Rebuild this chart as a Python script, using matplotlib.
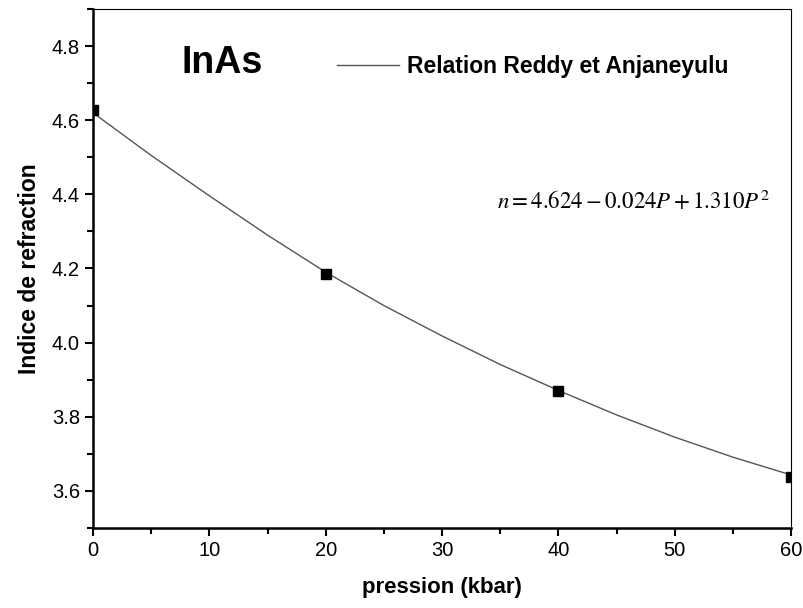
import matplotlib
matplotlib.use('Agg')
import matplotlib.pyplot as plt
from matplotlib.ticker import MultipleLocator

plt.rcParams['font.family'] = ['Liberation Sans', 'DejaVu Sans']
plt.rcParams['mathtext.fontset'] = 'stix'

# measured points
pression = [0, 20, 40, 60]
indice = [4.627, 4.185, 3.870, 3.638]

# Reddy & Anjaneyulu curve, every 5 kbar
p_curve = [0, 5, 10, 15, 20, 25, 30, 35, 40, 45, 50, 55, 60]
n_curve = [4.620, 4.505, 4.396, 4.290, 4.190, 4.100, 4.018, 3.941, 3.871,
           3.805, 3.745, 3.691, 3.643]

fig = plt.figure(figsize=(8.04, 6.08), dpi=100)
ax = fig.add_axes([0.1157, 0.1316, 0.8683, 0.8536])

ax.plot(p_curve, n_curve, color='#555555', lw=1.0,
        label='Relation Reddy et Anjaneyulu')
ax.plot(pression, indice, 's', color='black', ms=7.5, lw=0)

ax.set_xlim(0, 60)
ax.set_ylim(3.5, 4.9)
ax.xaxis.set_major_locator(MultipleLocator(10))
ax.xaxis.set_minor_locator(MultipleLocator(5))
ax.yaxis.set_minor_locator(MultipleLocator(0.1))
ax.set_yticks([3.6, 3.8, 4.0, 4.2, 4.4, 4.6, 4.8])
ax.yaxis.set_major_formatter(plt.FormatStrFormatter('%.1f'))

ax.tick_params(which='major', direction='out', length=6, width=1.5,
               labelsize=14.5, top=False, right=False)
ax.tick_params(which='minor', direction='out', length=4, width=1.5,
               top=False, right=False)
ax.spines['left'].set_linewidth(1.8)
ax.spines['bottom'].set_linewidth(1.8)
ax.spines['top'].set_linewidth(0.8)
ax.spines['right'].set_linewidth(0.8)

ax.set_xlabel('pression (kbar)', fontsize=16, fontweight='bold', labelpad=12)
ax.set_ylabel('Indice de refraction', fontsize=16.5, fontweight='bold', labelpad=8)

ax.text(0.127, 0.895, 'InAs', transform=ax.transAxes, fontsize=27,
        fontweight='bold', va='center', ha='left')
ax.text(0.579, 0.628, r'$n=4.624-0.024P+1.310P^2$', transform=ax.transAxes,
        fontsize=16.5, va='center', ha='left')

leg = ax.legend(loc='center left', bbox_to_anchor=(0.320, 0.89), frameon=False,
                handlelength=2.7, handletextpad=0.35,
                prop={'weight': 'bold', 'size': 16.5})

fig.savefig('out.png', dpi=100)
